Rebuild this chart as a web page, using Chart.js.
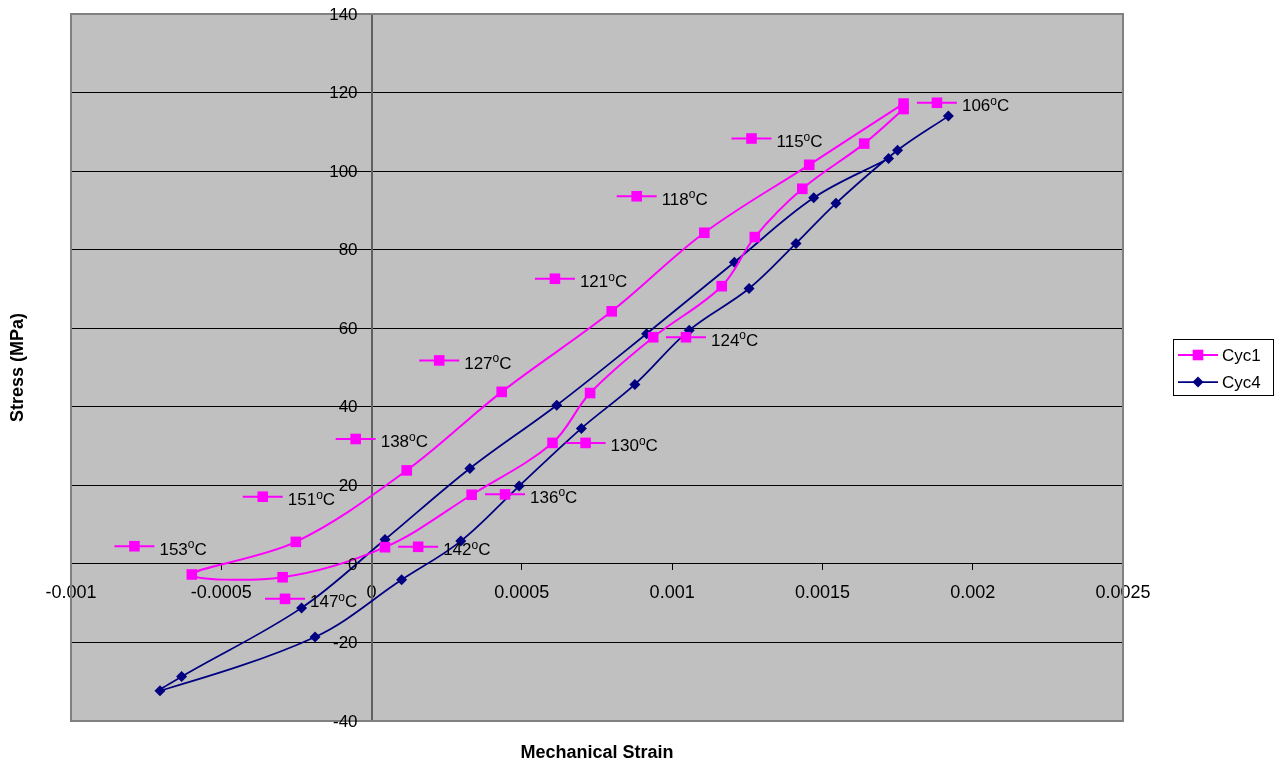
<!DOCTYPE html>
<html>
<head>
<meta charset="utf-8">
<script src="https://cdn.jsdelivr.net/npm/chart.js@4.4.0/dist/chart.umd.min.js"></script>
<style>
  html, body { margin: 0; padding: 0; background: #fff; }
  #wrap { width: 1281px; height: 769px; }
</style>
</head>
<body>
<div id="wrap"><canvas id="chart" width="1281" height="769"></canvas></div>
<script>
// Cyc1 loop: heating branch (106 -> 153 C), then cooling branch back up
const cyc1Strain = [0.00177, 0.001456, 0.001107, 0.000799, 0.000433, 0.000117, -0.000252, -0.000598,
  -0.000296, 0.0000446, 0.000333, 0.000602, 0.000727, 0.000937, 0.001165, 0.001275, 0.001433, 0.001639, 0.00177];
const cyc1Stress = [117.2, 101.6, 84.3, 64.3, 43.8, 23.8, 5.6, -2.7,
  -3.4, 4.25, 17.6, 30.8, 43.5, 57.7, 70.7, 83.2, 95.5, 107.0, 115.8];

// Cyc4 loop
const cyc4Strain = [0.001919, 0.00175, 0.001545, 0.001412, 0.001256, 0.001057, 0.000876, 0.000698, 0.000491,
  0.000297, 0.0001, -0.000188, -0.000704, -0.000632, -0.000233, 0.0000446, 0.000327, 0.000616, 0.000915,
  0.001207, 0.001471, 0.00172];
const cyc4Stress = [114.0, 105.3, 91.8, 81.6, 70.1, 59.5, 45.7, 34.5, 19.8,
  5.8, -4.05, -18.6, -32.3, -28.7, -11.2, 6.2, 24.3, 40.4, 58.6,
  76.8, 93.2, 103.2];

// temperature labels (dragged data labels), anchored where their key sits
const labelTemps = ['106', '115', '118', '121', '124', '127', '130', '136', '138', '142', '147', '151', '153'];
const labelStrain = [0.001881, 0.001264, 0.000882, 0.00061, 0.001046, 0.000225, 0.000712, 0.000444,
  -0.0000529, 0.000155, -0.000288, -0.000362, -0.000789];
const labelStress = [117.4, 108.3, 93.6, 72.6, 57.7, 51.8, 30.8, 17.7, 31.8, 4.35, -8.9, 17.1, 4.5];

const xTickValues = [-0.001, -0.0005, 0, 0.0005, 0.001, 0.0015, 0.002, 0.0025];
const yTickValues = [-40, -20, 0, 20, 40, 60, 80, 100, 120, 140];

const FONT = '"Liberation Sans", Arial, Helvetica, sans-serif';
const MAGENTA = '#ff00ff';
const NAVY = '#000080';

function toPoints(xs, ys) {
  return xs.map((x, i) => ({ x: x, y: ys[i] }));
}

function drawMarker(ctx, style, x, y, color) {
  ctx.fillStyle = color;
  ctx.beginPath();
  if (style === 'rect') {
    ctx.rect(x - 5.3, y - 5.3, 10.6, 10.6);
  } else {
    ctx.moveTo(x - 5.5, y);
    ctx.lineTo(x, y - 5.5);
    ctx.lineTo(x + 5.5, y);
    ctx.lineTo(x, y + 5.5);
    ctx.closePath();
  }
  ctx.fill();
}

function drawKey(ctx, x, y, ds) {
  ctx.strokeStyle = ds.borderColor;
  ctx.lineWidth = ds.borderWidth;
  ctx.beginPath();
  ctx.moveTo(x - 20, y);
  ctx.lineTo(x + 20, y);
  ctx.stroke();
  drawMarker(ctx, ds.pointStyle, x, y, ds.backgroundColor);
}

const chartDecor = {
  id: 'chartDecor',
  beforeDraw(chart) {
    const { ctx, chartArea: a } = chart;
    ctx.save();
    ctx.fillStyle = '#ffffff';
    ctx.fillRect(0, 0, chart.width, chart.height);
    ctx.fillStyle = '#c0c0c0';
    ctx.fillRect(a.left, a.top, a.right - a.left, a.bottom - a.top);
    ctx.restore();
  },
  afterDraw(chart) {
    const { ctx, chartArea: a, scales } = chart;
    const ds1 = chart.data.datasets[0];
    ctx.save();

    // plot border
    ctx.strokeStyle = '#808080';
    ctx.lineWidth = 2;
    ctx.strokeRect(a.left, a.top, a.right - a.left, a.bottom - a.top);

    // y tick labels sit just left of the y axis (which crosses at x = 0)
    const axisX = scales.x.getPixelForValue(0);
    ctx.fillStyle = '#000';
    ctx.font = '17px ' + FONT;
    ctx.textAlign = 'right';
    ctx.textBaseline = 'middle';
    scales.y.ticks.forEach(t => {
      ctx.fillText(String(t.value), axisX - 14, scales.y.getPixelForValue(t.value) + 1);
    });

    // temperature labels with legend key
    ctx.textAlign = 'left';
    ctx.textBaseline = 'alphabetic';
    labelTemps.forEach((t, i) => {
      const px = scales.x.getPixelForValue(labelStrain[i]);
      const py = scales.y.getPixelForValue(labelStress[i]);
      drawKey(ctx, px, py, ds1);
      const base = py + 8.5;
      let tx = px + 25;
      ctx.fillStyle = '#000';
      ctx.font = '17px ' + FONT;
      ctx.fillText(t, tx, base);
      tx += ctx.measureText(t).width;
      ctx.font = '12px ' + FONT;
      ctx.fillText('o', tx, base - 6.5);
      tx += ctx.measureText('o').width;
      ctx.font = '17px ' + FONT;
      ctx.fillText('C', tx, base);
    });

    // axis titles
    ctx.font = 'bold 18px ' + FONT;
    ctx.textAlign = 'center';
    ctx.textBaseline = 'middle';
    ctx.fillText('Mechanical Strain', (a.left + a.right) / 2, 753);
    ctx.save();
    ctx.translate(18, (a.top + a.bottom) / 2);
    ctx.rotate(-Math.PI / 2);
    ctx.fillText('Stress (MPa)', 0, 0);
    ctx.restore();

    // legend
    const lx = 1173, ly = 339, lw = 100, lh = 56;
    ctx.fillStyle = '#ffffff';
    ctx.fillRect(lx, ly, lw, lh);
    ctx.strokeStyle = '#000';
    ctx.lineWidth = 1;
    ctx.strokeRect(lx + 0.5, ly + 0.5, lw, lh);
    ctx.font = '17px ' + FONT;
    ctx.textAlign = 'left';
    ctx.textBaseline = 'middle';
    chart.data.datasets.forEach((ds, i) => {
      const y = 355 + i * 27;
      drawKey(ctx, 1198, y, ds);
      ctx.fillStyle = '#000';
      ctx.fillText(ds.label, 1222, y + 1);
    });
    ctx.restore();
  }
};

new Chart(document.getElementById('chart'), {
  type: 'scatter',
  data: {
    datasets: [
      {
        label: 'Cyc1',
        data: toPoints(cyc1Strain, cyc1Stress),
        showLine: true,
        borderColor: MAGENTA,
        backgroundColor: MAGENTA,
        borderWidth: 2,
        pointStyle: 'rect',
        pointRadius: 7.5,
        pointBorderWidth: 0,
        tension: 0.35
      },
      {
        label: 'Cyc4',
        data: toPoints(cyc4Strain, cyc4Stress),
        showLine: true,
        borderColor: NAVY,
        backgroundColor: NAVY,
        borderWidth: 1.75,
        pointStyle: 'rectRot',
        pointRadius: 5.5,
        pointBorderWidth: 0,
        tension: 0.35
      }
    ]
  },
  options: {
    responsive: false,
    animation: false,
    events: [],
    layout: { padding: { left: 71, top: 14, right: 158, bottom: 48 } },
    plugins: {
      legend: { display: false },
      tooltip: { enabled: false }
    },
    scales: {
      x: {
        type: 'linear',
        min: -0.001,
        max: 0.0025,
        position: { y: 0 },
        afterBuildTicks: s => { s.ticks = xTickValues.map(v => ({ value: v })); },
        grid: { drawOnChartArea: false, drawTicks: true, tickLength: 6, color: '#000' },
        border: { display: true, color: '#000', width: 1 },
        ticks: {
          color: '#000',
          font: { family: FONT, size: 18 },
          padding: 12,
          maxRotation: 0,
          autoSkip: false,
          callback: v => String(+Number(v).toFixed(4))
        }
      },
      y: {
        type: 'linear',
        min: -40,
        max: 140,
        position: { x: 0 },
        afterBuildTicks: s => { s.ticks = yTickValues.map(v => ({ value: v })); },
        grid: { color: '#000', lineWidth: 1, drawTicks: true, tickLength: 5 },
        border: { display: true, color: '#606060', width: 2 },
        ticks: { display: false }
      }
    }
  },
  plugins: [chartDecor]
});
</script>
</body>
</html>
